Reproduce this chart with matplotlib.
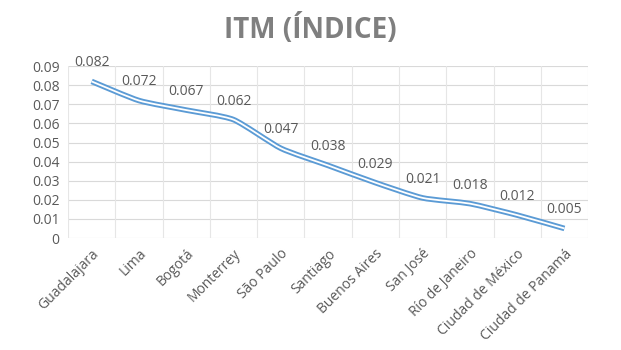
import matplotlib.pyplot as plt
from matplotlib.path import Path
from matplotlib.patches import PathPatch
import numpy as np

ciudades = ['Guadalajara', 'Lima', 'Bogotá', 'Monterrey', 'São Paulo', 'Santiago',
            'Buenos Aires', 'San José', 'Río de Janeiro', 'Ciudad de México',
            'Ciudad de Panamá']
itm = [0.082, 0.072, 0.067, 0.062, 0.047, 0.038, 0.029, 0.021, 0.018, 0.012, 0.005]
yticks = [0, 0.01, 0.02, 0.03, 0.04, 0.05, 0.06, 0.07, 0.08, 0.09]

gris = '#595959'
azul = '#5b9bd5'

fig = plt.figure(figsize=(6.21, 3.5), dpi=100)
ax = fig.add_axes([0.1095, 0.32, 0.8375, 0.491])

x = np.arange(len(itm))
y = np.array(itm)

# smoothed line (bezier segments through the points, mild tension)
verts = [(x[0], y[0])]
codes = [Path.MOVETO]
t = 0.1
for i in range(len(x) - 1):
    p0 = (x[i - 1], y[i - 1]) if i > 0 else (x[i], y[i])
    p1 = (x[i], y[i])
    p2 = (x[i + 1], y[i + 1])
    p3 = (x[i + 2], y[i + 2]) if i + 2 < len(x) else p2
    c1 = (p1[0] + (p2[0] - p0[0]) * t, p1[1] + (p2[1] - p0[1]) * t)
    c2 = (p2[0] - (p3[0] - p1[0]) * t, p2[1] - (p3[1] - p1[1]) * t)
    verts += [c1, c2, p2]
    codes += [Path.CURVE4] * 3
curva = Path(verts, codes)
ax.add_patch(PathPatch(curva, fill=False, edgecolor=azul, lw=4.0, capstyle='butt', zorder=3))
ax.add_patch(PathPatch(curva, fill=False, edgecolor='white', lw=1.3, capstyle='butt', zorder=4))

for xi, yi in zip(x, itm):
    ax.annotate(f'{yi:.3f}', (xi, yi), xytext=(0, 8),
                textcoords='offset points', ha='center', va='bottom',
                fontsize=10, color=gris, family='Open Sans')

ax.set_xlim(-0.5, len(itm) - 0.5)
ax.set_ylim(0, 0.09)
ax.set_yticks(yticks)
ax.set_yticklabels(['0'] + [f'{v:.2f}' for v in yticks[1:]])
ax.set_xticks(x)
ax.set_xticklabels(ciudades, rotation=45, ha='right', va='top', rotation_mode='anchor')

# horizontal gridlines and vertical lines between categories
for v in yticks:
    ax.axhline(v, color='#d9d9d9', lw=0.8, zorder=1)
for b in np.arange(-0.5, len(itm), 1):
    ax.axvline(b, color='#e6e6e6', lw=0.8, zorder=1)

for s in ax.spines.values():
    s.set_visible(False)
ax.tick_params(length=0, colors=gris, labelsize=10, pad=6)
for lab in ax.get_xticklabels() + ax.get_yticklabels():
    lab.set_family('Open Sans')

fig.text(0.5, 0.915, 'ITM (ÍNDICE)', ha='center', va='center', fontsize=20,
         fontweight='bold', color='#7f7f7f', family='Open Sans')

fig.savefig('out.png', dpi=100)
